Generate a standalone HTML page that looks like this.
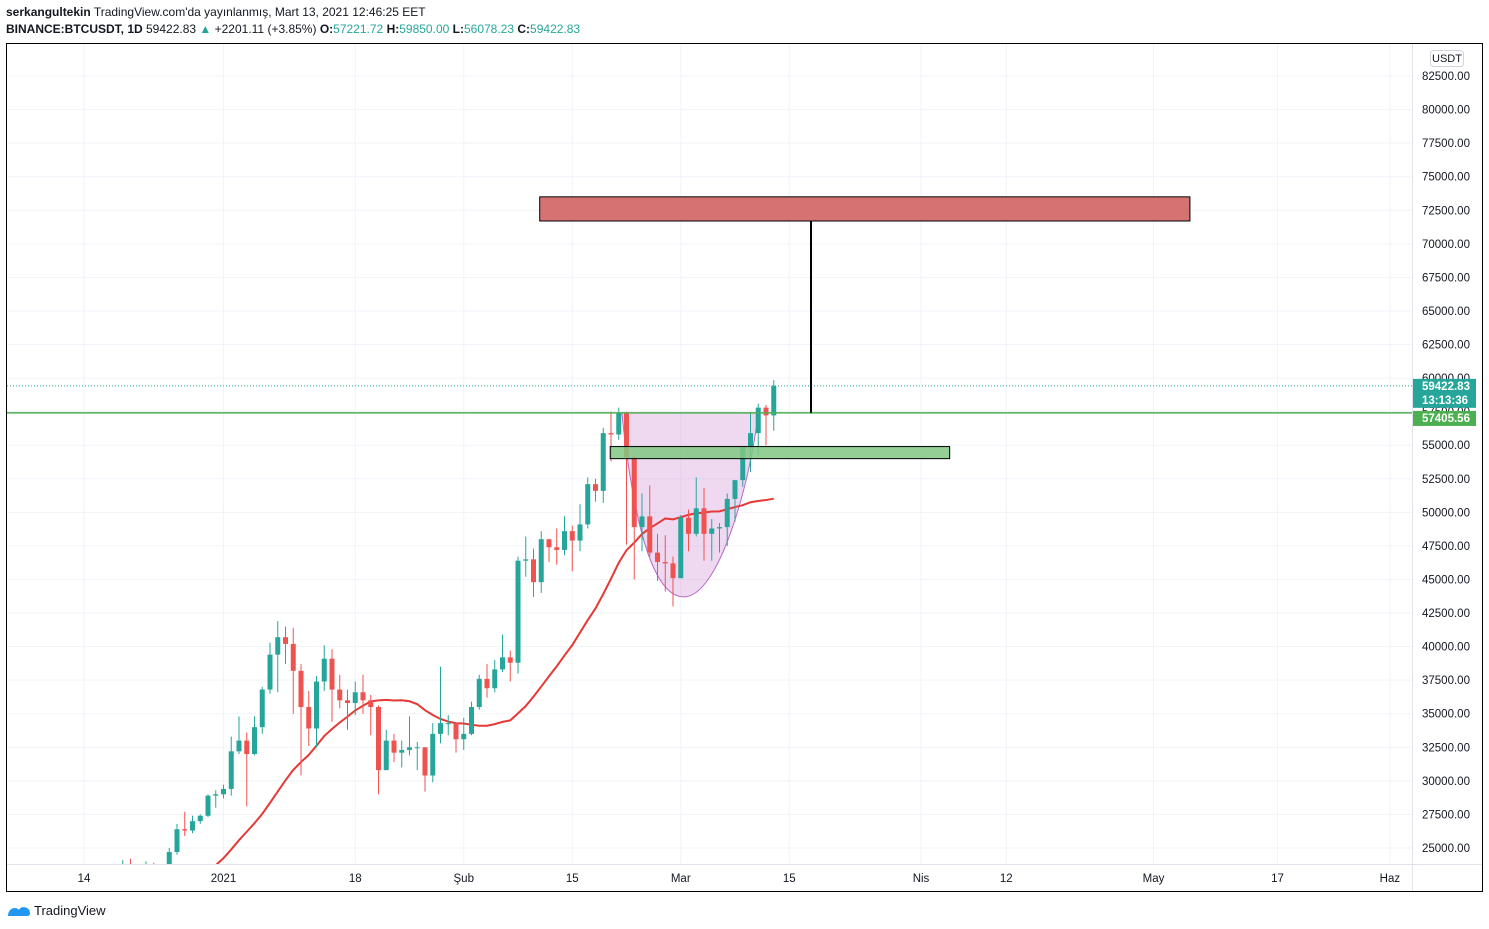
<!DOCTYPE html>
<html><head><meta charset="utf-8">
<style>
body{margin:0;background:#fff;font-family:"Liberation Sans",sans-serif;}
#hdr{position:absolute;left:6px;top:4px;font-size:12px;color:#131722;line-height:17px;}
#hdr b{font-weight:bold}
.t{color:#26a69a}
</style></head>
<body>
<div id="hdr">
<div><b>serkangultekin</b> TradingView.com'da yayınlanmış, Mart 13, 2021 12:46:25 EET</div>
<div><b>BINANCE:BTCUSDT, 1D</b> 59422.83 <span class="t">▲</span> +2201.11 (+3.85%) <b>O:</b><span class="t">57221.72</span> <b>H:</b><span class="t">59850.00</span> <b>L:</b><span class="t">56078.23</span> <b>C:</b><span class="t">59422.83</span></div>
</div>
<svg id="chart" width="1489" height="929" style="position:absolute;left:0;top:0">
<defs><clipPath id="pc"><rect x="7" y="44" width="1405" height="820"/></clipPath></defs>
<g id="grid"></g>
<g id="plot" clip-path="url(#pc)"></g>
<g id="axes"></g>
</svg>
<div style="position:absolute;left:6px;top:902px;font-size:13px;color:#131722;display:flex;align-items:center">
<svg width="26" height="16"><path d="M2 14 C2 6 10 4 13 8 C15 3 24 5 24 11 C24 14 22 14 20 14Z" fill="#2196f3"/></svg><span style="margin-left:2px">TradingView</span></div>
<script>
const closes=[18800,19200,19400,18700,19200,19400,19200,18300,18500,18300,18000,18800,19200,19300,19400,21300,22800,23100,23800,23500,22700,23800,23200,23700,24700,26400,26300,27000,27400,28900,29000,29400,32200,33000,32000,34000,36800,39400,40700,40200,38200,35500,33900,37400,39100,36800,36000,35800,36600,36000,35500,30800,33000,32100,32300,32500,32500,30400,33500,34300,34300,33100,33500,35500,37600,36900,38300,39200,38800,46400,46500,44800,48000,47400,47200,48600,47900,49100,52100,51600,55900,55800,57400,54100,48900,49700,47000,46300,46200,45100,49600,48400,50300,48400,48800,48900,51000,52400,54900,55900,57800,57221,59422];
const highs=[19800,19600,19600,19500,19400,19500,19400,19300,18700,18600,18400,18900,19400,19400,19600,21500,23700,23300,24100,24200,23800,24000,23900,23800,25000,26800,27700,27400,27500,29000,29300,29700,33300,34800,33600,34800,37000,40300,41900,41500,41400,38700,36700,37800,40100,39800,37900,36800,37400,37900,36400,35600,33800,33500,33000,34800,32900,32500,34300,38500,34900,34300,34700,35900,37900,38700,39000,40900,39700,46700,48200,47300,48600,48000,48800,49700,49000,50600,52600,52500,56300,57500,57800,57500,54200,51400,52000,48400,48300,46700,49800,50200,52600,51800,49500,49200,51400,52400,54900,57400,58100,58000,59850];
const lows=[18000,18300,18600,18600,18500,19000,18900,18200,17600,17900,17600,18000,18700,19000,19100,19300,21300,22400,22900,23100,22400,22700,22700,23100,23400,24500,25900,26100,26800,27300,28000,28700,28900,32000,28100,31900,33500,36500,36600,38700,35000,30400,32600,32500,36700,34400,35400,33800,34900,35000,33400,29000,30900,31400,31000,31900,30800,29200,29900,32800,33400,32100,32300,33400,35300,36200,36600,38100,37400,38000,45200,43700,44000,46300,46100,46800,45600,47100,48800,50800,50700,53800,55400,47600,45000,47100,46700,44900,44100,43000,45100,47100,48200,46400,46400,47000,47500,49300,51900,53000,54300,55000,56078];
const priceTicks=[25000,27500,30000,32500,35000,37500,40000,42500,45000,47500,50000,52500,55000,57500,60000,62500,65000,67500,70000,72500,75000,77500,80000,82500];
const timeLabels=["14","2021","18","Şub","15","Mar","15","Nis","12","May","17","Haz"];
const timeDays=[13,31,48,62,76,90,104,121,132,151,167,181.5];
const resistanceZone=[71700,73500]; const zoneDays=[71.8,155.7];
const supportZone=[54000,54900]; const supportDays=[80.9,124.7];
const cupDays=[82.4,90.4,100]; const cupLow=43700;
const lastPrice=59422.83, neckline=57405.56;
const NS="http://www.w3.org/2000/svg";
function y(p){return 848-(p-25000)/2500*33.565;}
function x(d){return 84+(d-13)*7.75;}
function mk(par,tag,at){const e=document.createElementNS(NS,tag);for(const k in at)e.setAttribute(k,at[k]);document.getElementById(par).appendChild(e);return e;}
priceTicks.forEach(p=>{const l=mk('grid','line',{x1:7,x2:1412,y1:y(p),y2:y(p),stroke:'#f0f3fa'});

});
timeDays.forEach(d=>{const l=mk('grid','line',{x1:x(d),x2:x(d),y1:44,y2:864,stroke:'#f0f3fa'});

});
const c0=x(cupDays[0]),cm=x(cupDays[1]),c1=x(cupDays[2]),cupTop=y(neckline),cupBot=y(cupLow);
const cup=mk('plot','path',{d:`M${c0} ${cupTop} C${c0+12} ${cupBot-70} ${cm-30} ${cupBot} ${cm} ${cupBot} C${cm+35} ${cupBot} ${c1-8} ${cupTop+70} ${c1} ${cupTop} Z`,fill:'rgba(206,147,216,0.35)',stroke:'#ba68c8','stroke-width':1});


let pts=[];for(let i=19;i<closes.length;i++){let s=0;for(let j=i-19;j<=i;j++)s+=closes[j];pts.push(x(i)+','+y(s/20));}
const ma=mk('plot','polyline',{points:pts.join(' '),fill:'none',stroke:'#e53935','stroke-width':2});


const dl=mk('plot','line',{x1:7,x2:1412,y1:y(lastPrice),y2:y(lastPrice),stroke:'#26a69a','stroke-dasharray':'1 2'});


for(let i=16;i<closes.length;i++){const o=closes[i-1],c=closes[i];const col=c>=o?'#26a69a':'#ef5350';const cx=x(i);
const w=mk('plot','line',{x1:cx,x2:cx,y1:y(highs[i]),y2:y(lows[i]),stroke:col});


const b=mk('plot','rect',{x:cx-2.5,width:5,y:y(Math.max(o,c)),height:Math.max(1,Math.abs(y(o)-y(c))),fill:col});

}
const gl=mk('plot','line',{x1:7,x2:1412,y1:y(neckline),y2:y(neckline),stroke:'#4caf50','stroke-width':1.5});


const rz=mk('plot','rect',{x:x(zoneDays[0]),width:x(zoneDays[1])-x(zoneDays[0]),y:y(resistanceZone[1]),height:y(resistanceZone[0])-y(resistanceZone[1]),fill:'#d57272',stroke:'#000'});


const sz=mk('plot','rect',{x:x(supportDays[0]),width:x(supportDays[1])-x(supportDays[0]),y:y(supportZone[1]),height:y(supportZone[0])-y(supportZone[1]),fill:'rgba(129,199,132,0.85)',stroke:'#000'});


const vl=mk('plot','line',{x1:811,x2:811,y1:y(resistanceZone[0]),y2:y(neckline),stroke:'#000','stroke-width':2});


const fr=mk('axes','rect',{x:6.5,y:43.5,width:1476,height:848,fill:'none',stroke:'#000'});


mk('axes','line',{x1:1412.5,x2:1412.5,y1:44,y2:891,stroke:'#e0e3eb'});
mk('axes','line',{x1:7,x2:1482,y1:864.5,y2:864.5,stroke:'#e0e3eb'});
const ub=mk('axes','rect',{x:1430.5,y:50.5,width:33,height:16,rx:3,fill:'#fff',stroke:'#d1d4dc'});


const ut=mk('axes','text',{x:1447,y:62,'font-size':11,'text-anchor':'middle',fill:'#131722','font-family':'Liberation Sans'});ut.textContent='USDT';


priceTicks.forEach(p=>{const t=mk('axes','text',{x:1422,y:y(p)+4,'font-size':11.5,fill:'#131722','font-family':'Liberation Sans'});t.textContent=p.toFixed(2);

});
timeLabels.forEach((s,i)=>{const t=mk('axes','text',{x:x(timeDays[i]),y:882,'font-size':11.5,'text-anchor':'middle',fill:'#131722','font-family':'Liberation Sans'});t.textContent=s;

});
function tag(yy,h,fill,lines){const r=mk('axes','rect',{x:1413,y:yy,width:63,height:h,fill:fill});


lines.forEach((s,i)=>{const t=mk('axes','text',{x:1422,y:yy+11+i*14,'font-size':11.5,fill:'#fff','font-family':'Liberation Sans','font-weight':'bold'});t.textContent=s;

});}
tag(y(lastPrice)-7,29,'#26a69a',[lastPrice.toFixed(2),'13:13:36']);
tag(y(neckline)-2,15,'#4caf50',[neckline.toFixed(2)]);
</script>
</body></html>
